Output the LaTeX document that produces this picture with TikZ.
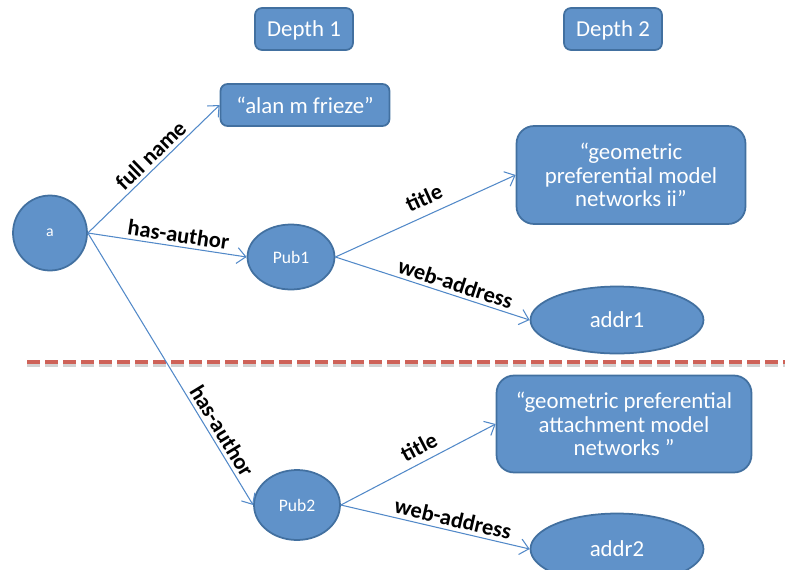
\documentclass[tikz,border=0pt]{standalone}
\usepackage{fontspec}
\setmainfont{Carlito}
\usetikzlibrary{positioning,shapes.geometric,arrows.meta}

\definecolor{nodeblue}{RGB}{96,146,201}
\definecolor{nodeline}{RGB}{66,112,160}
\definecolor{edgeblue}{RGB}{82,137,200}
\definecolor{sepred}{RGB}{206,98,88}

\tikzset{
  box/.style={rectangle, rounded corners=4pt, fill=nodeblue, draw=nodeline, line width=1pt,
    text=white, font=\fontsize{13}{13.4}\selectfont, align=center, inner sep=0pt},
  ent/.style={ellipse, fill=nodeblue, draw=nodeline, line width=1pt, text=white, inner sep=0pt},
  rel/.style={-{Straight Barb[length=5pt,width=9pt]}, draw=edgeblue, line width=0.6pt},
  lbl/.style={font=\bfseries\fontsize{12.8}{14}\selectfont, sloped, above, inner sep=2pt}
}

\begin{document}
\begin{tikzpicture}[x=0.02cm,y=-0.02cm]
\useasboundingbox (0,0) rectangle (785,569);

\node[box, minimum width=1.96cm, minimum height=0.84cm, text depth=0pt] (depth1) at (304,29) {Depth 1};
\node[box, minimum width=1.96cm, minimum height=0.84cm, text depth=0pt] (depth2) at (613,29) {Depth 2};

\node[ent, minimum width=1.48cm, minimum height=1.5cm, font=\fontsize{9}{10}\selectfont] (a) at (50,233) {a};

\node[box, minimum width=3.38cm, minimum height=0.84cm] (alan) at (305,105) {“alan m frieze”};
\node[ent, minimum width=1.74cm, minimum height=1.3cm, font=\fontsize{10}{11}\selectfont] (pub1) at (291,257) {Pub1};
\node[ent, minimum width=1.72cm, minimum height=1.4cm, font=\fontsize{10}{11}\selectfont] (pub2) at (297,505) {Pub2};

\node[box, rounded corners=10pt, minimum width=4.58cm, minimum height=1.96cm] (title1) at (631,175)
  {“geometric\\preferential model\\networks ii”};
\node[ent, minimum width=3.46cm, minimum height=1.34cm, font=\fontsize{13}{14}\selectfont] (addr1) at (617,320) {addr1};

\node[box, rounded corners=10pt, minimum width=5.1cm, minimum height=1.94cm] (title2) at (624,424)
  {“geometric preferential\\attachment model\\networks ”};
\node[ent, minimum width=3.46cm, minimum height=1.42cm, font=\fontsize{13}{14}\selectfont] (addr2) at (617,549) {addr2};

% separator between the two publications
\draw[gray!35, line width=2.5pt, dash pattern=on 7.4pt off 2.85pt] (27,365) -- (785,365);
\draw[sepred, line width=2.5pt, dash pattern=on 7.4pt off 2.85pt] (27,362) -- (785,362);

\draw[rel] (a.east) -- node[lbl, pos=0.54] {full name} (alan.west);
\draw[rel] (a.east) -- node[lbl, pos=0.56] {has-author} (pub1.west);
\draw[rel] (a.east) -- node[lbl, pos=0.75] {has-author} (pub2.west);

\draw[rel] (pub1.east) -- node[lbl, pos=0.53, inner sep=5pt] {title} (title1.west);
\draw[rel] (pub1.east) -- node[lbl, pos=0.6] {web-address} (addr1.west);
\draw[rel] (pub2.east) -- node[lbl, pos=0.55, inner sep=4pt] {title} (title2.west);
\draw[rel] (pub2.east) -- node[lbl, pos=0.58] {web-address} (addr2.west);

\end{tikzpicture}
\end{document}
